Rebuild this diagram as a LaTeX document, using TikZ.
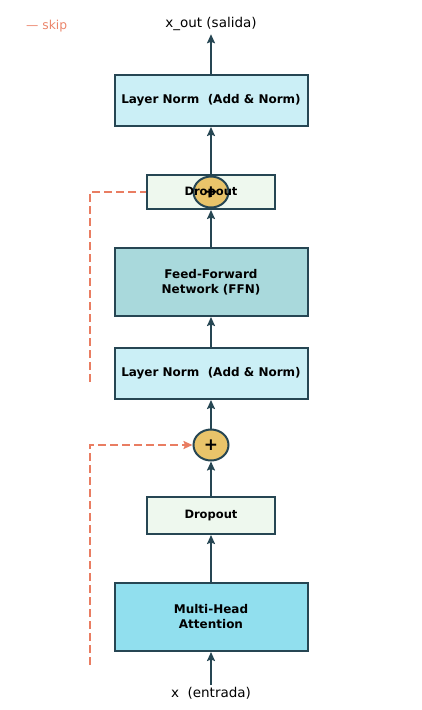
\documentclass[tikz,border=0pt]{standalone}
\usepackage{fontspec}
\setmainfont{DejaVu Sans}
\usetikzlibrary{arrows.meta,shapes.geometric}
\definecolor{dk}{HTML}{264653}
\definecolor{org}{HTML}{E76F51}
\definecolor{lnfill}{HTML}{CBEFF6}
\definecolor{dofill}{HTML}{EEF8EE}
\definecolor{fffill}{HTML}{A9D9DC}
\definecolor{mhfill}{HTML}{91DFEE}
\definecolor{plusfill}{HTML}{E9C46A}
\tikzset{
  blk/.style={draw=dk, line width=2pt, minimum width=193pt, align=center, font=\bfseries\fontsize{12}{15}\selectfont, inner sep=0pt},
  dobox/.style={draw=dk, line width=2pt, fill=dofill, minimum width=128pt, inner sep=0pt},
  dotxt/.style={font=\bfseries\fontsize{11.5}{13}\selectfont},
  addc/.style={ellipse, draw=dk, line width=2pt, fill=plusfill, minimum width=35pt, minimum height=31pt, inner sep=0pt, font=\bfseries\fontsize{17}{17}\selectfont},
  tip/.style={-{Stealth[length=9pt,width=8pt,inset=1.5pt]}},
  flow/.style={draw=dk, line width=2pt, tip},
  skipl/.style={draw=org!90, line width=2pt, dash pattern=on 8pt off 4pt},
  lbl/.style={font=\fontsize{13.5}{16}\selectfont, text=black},
}
\begin{document}
\begin{tikzpicture}[x=1pt,y=-1pt]
\useasboundingbox (0,0) rectangle (422,710);
% labels
\node[font=\fontsize{12.3}{14}\selectfont, text=org!85, anchor=west, inner sep=0pt] (leg) at (26,26) {— skip};
\node[lbl] (out) at (211,24) {x\_out (salida)};
\node[lbl] (in) at (211,693) {x\ \ (entrada)};
% boxes
\node[blk, fill=lnfill, minimum height=51pt] (ln2) at (211,100.5) {Layer Norm\ \ (Add \& Norm)};
\node[dobox, minimum height=34pt] (do2) at (211,192) {};
\node[blk, fill=fffill, minimum height=68pt] (ffn) at (211,282) {Feed-Forward\\Network (FFN)};
\node[blk, fill=lnfill, minimum height=51pt] (ln1) at (211,373.5) {Layer Norm\ \ (Add \& Norm)};
\node[addc] (add1) at (211,445) {+};
\node[dobox, minimum height=37pt, dotxt] (do1) at (211,515.5) {Dropout};
\node[blk, fill=mhfill, minimum height=68pt] (mha) at (211,617) {Multi-Head\\Attention};
\node[addc] (add2) at (211,192) {+};
\node[dotxt] (do2t) at (do2.center) {Dropout};
% skip connections
\coordinate (s1) at (90,665);
\coordinate (s2) at (90,382);
\draw[skipl, tip] (s1) |- (add1.west);
\draw[skipl] (s2) |- (do2.west);
% main flow
\coordinate (inb) at (211,685);
\draw[flow] (inb) -- (mha.south);
\draw[flow] (mha.north) -- (do1.south);
\draw[flow] (do1.north) -- (add1.south);
\draw[flow] (add1.north) -- (ln1.south);
\draw[flow] (ln1.north) -- (ffn.south);
\draw[flow] (ffn.north) -- (do2.south);
\draw[flow] (add2.north) -- (ln2.south);
\draw[flow] (ln2.north) -- (out.south);
\end{tikzpicture}
\end{document}
